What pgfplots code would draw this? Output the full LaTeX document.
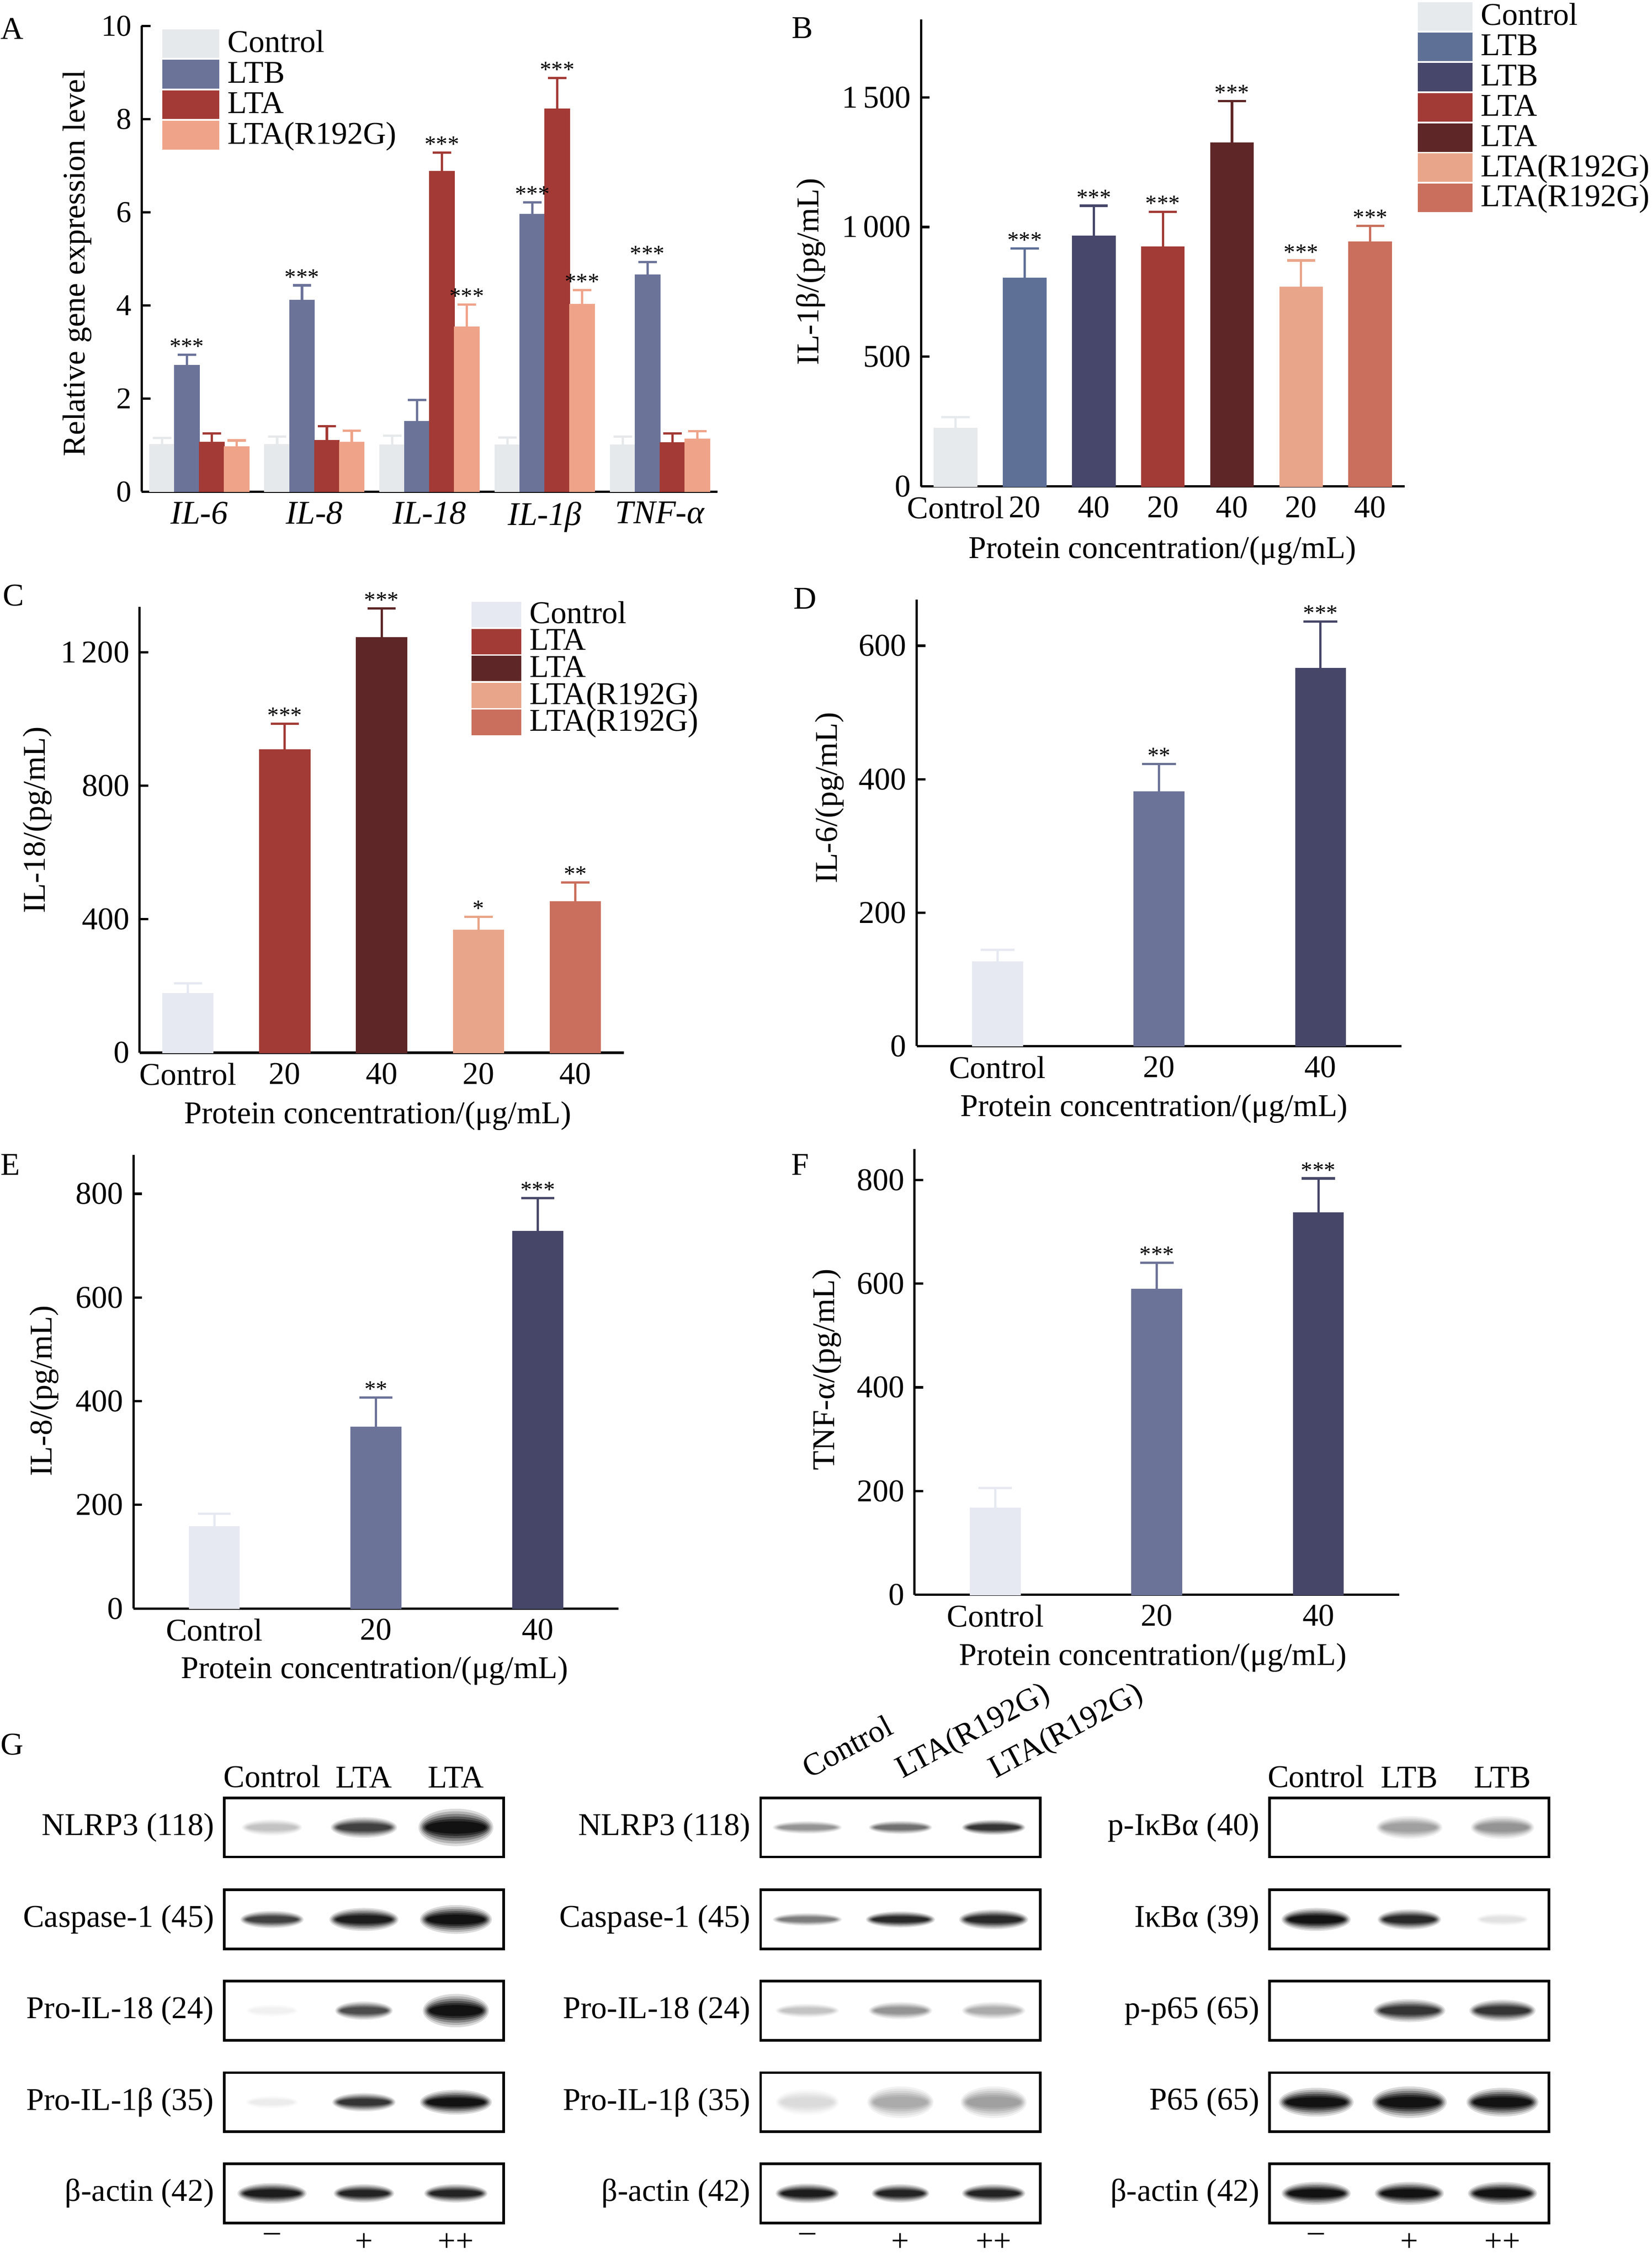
\documentclass[border=0pt]{standalone}
\usepackage{fontspec}
\setmainfont{Liberation Serif}
\usepackage{pgfplots}
\pgfplotsset{compat=1.18}

\definecolor{ctlA}{HTML}{E6E9EB}
\definecolor{ltbA}{HTML}{6B7399}
\definecolor{ltaA}{HTML}{A33A35}
\definecolor{rgA}{HTML}{EFA48A}
\definecolor{ctl}{HTML}{E6E9F1}
\definecolor{ctlB}{HTML}{E6EAED}
\definecolor{ltbL}{HTML}{5E7096}
\definecolor{ltbH}{HTML}{46476A}
\definecolor{ltaL}{HTML}{A23B36}
\definecolor{ltaH}{HTML}{5E2626}
\definecolor{rgL}{HTML}{E9A58A}
\definecolor{rgH}{HTML}{CA6F5D}
\definecolor{dL}{HTML}{6C7398}
\definecolor{dH}{HTML}{464768}

\def\legW{19pt}\def\legH{4.8pt}
\newcommand\fs[1]{\fontsize{#1}{#1}\selectfont}

% a filled-only round mark (no outline)
\pgfdeclareplotmark{blob}{\pgfpathcircle{\pgfpointorigin}{\pgfplotmarksize}\pgfusepathqfill}

\pgfplotsset{
 colormap={blot}{rgb255=(255,255,255) rgb255=(18,18,18)},
 panel/.style={scale only axis, anchor=south west,
   axis x line*=bottom, axis y line*=left,
   axis line style={line width=0.8pt, black},
   tick align=inside, major tick length=3pt,
   ytick style={line width=0.8pt, black}, xtick style={draw=none},
   clip=false, font=\fs{11},
   /pgf/number format/assume math mode=true,
   tick label style={font=\fs{11}},
   legend cell align=left,
   legend style={draw=none, fill=none, inner sep=0pt, column sep=3pt,
     nodes={inner sep=0pt, text height=6pt, text depth=0pt, font=\fs{11}}},
 },
 bars/.style n args={4}{ybar, bar width=#1, bar shift=#2, draw=#3, fill=#3, line width=0.3pt,
   legend image code/.code={\fill[##1] (0pt,-\legH) rectangle (\legW,\legH);},
   error bars/y dir=plus, error bars/y explicit,
   error bars/error bar style={line width=0.8pt, draw=#3, solid},
   error bars/error mark options={line width=0.8pt, draw=#3, mark size=#4, rotate=90}},
 stars/.style={forget plot, draw=none, mark=none, nodes near coords, point meta=explicit symbolic,
   every node near coord/.append style={anchor=base, inner sep=0pt, yshift=0.3pt, font=\fs{8}, text=black}},
 blot/.style={scale only axis, anchor=south west, width=97.05pt, height=20.55pt,
   xmin=0.5, xmax=3.5, ymin=0, ymax=1, axis line style={line width=0.9pt},
   xtick={1,2,3}, ytick=\empty, major tick length=0pt, xtick style={draw=none},
   xticklabels={,,}, colormap name=blot, point meta min=0, point meta max=1,
   font=\fs{11}, tick label style={font=\fs{11}}, clip=false},
 bandlayer/.style n args={3}{scatter, only marks, mark=blob, forget plot,
   scatter/use mapped color={fill=mapped color},
   point meta={\thisrow{k}*#1},
   visualization depends on={\thisrow{w}*#2 \as \bw},
   visualization depends on={\thisrow{h}*#3/(\thisrow{w}*#2) \as \bys},
   scatter/@pre marker code/.append style={/tikz/mark size=\bw, /tikz/yscale=\bys}},
}

\newcommand\bands[1]{%
 \addplot[bandlayer={0.15}{1}{1}] table[row sep=\\, x=x, y expr=0.5] {#1};
 \addplot[bandlayer={0.32}{0.96}{0.86}] table[row sep=\\, x=x, y expr=0.5] {#1};
 \addplot[bandlayer={0.52}{0.92}{0.72}] table[row sep=\\, x=x, y expr=0.5] {#1};
 \addplot[bandlayer={0.72}{0.88}{0.58}] table[row sep=\\, x=x, y expr=0.5] {#1};
 \addplot[bandlayer={0.88}{0.84}{0.45}] table[row sep=\\, x=x, y expr=0.5] {#1};
 \addplot[bandlayer={1}{0.8}{0.33}] table[row sep=\\, x=x, y expr=0.5] {#1};
}
\newcommand\blot[5]{%
 \begin{axis}[blot, at={(#1,#2)}, #5]
 \node[anchor=east, font=\fs{11}] at (rel axis cs:0,0.5) {#3};
 \bands{#4}
 \end{axis}}

\begin{document}
\begin{tikzpicture}
\path[use as bounding box] (0pt,0pt) rectangle (573.6pt,784.95pt);

% panel letters
\node[anchor=north west, inner sep=0pt, font=\fs{11}] at (0pt,778.8pt) {A};
\node[anchor=north west, inner sep=0pt, font=\fs{11}] at (274.8pt,779.1pt) {B};
\node[anchor=north west, inner sep=0pt, font=\fs{11}] at (0.75pt,582.15pt) {C};
\node[anchor=north west, inner sep=0pt, font=\fs{11}] at (275.4pt,580.95pt) {D};
\node[anchor=north west, inner sep=0pt, font=\fs{11}] at (0pt,384.45pt) {E};
\node[anchor=north west, inner sep=0pt, font=\fs{11}] at (274.65pt,384.45pt) {F};
\node[anchor=north west, inner sep=0pt, font=\fs{11}] at (0pt,183.3pt) {G};

% ---------------- A ----------------
\def\legW{19.5pt}\def\legH{4.85pt}
\begin{axis}[panel, at={(49.2pt,614.25pt)}, width=199.95pt, height=161.7pt,
  xmin=0.5, xmax=5.5, ymin=0, ymax=10, ytick={0,2,4,6,8,10},
  yticklabel style={font=\fs{10.5}},
  xtick={1,2,3,4,5},
  xticklabels={\textit{IL-6},\textit{IL-8},\textit{IL-18},\textit{IL-1β},\textit{TNF-α}},
  xticklabel style={font=\fs{11.5}},
  ylabel={Relative gene expression level},
  ylabel style={at={(axis description cs:-0.112,0.49)}, anchor=center},
  legend style={at={(0.0345,0.994)}, anchor=north west, row sep=0.6pt},
  legend entries={Control,LTB,LTA,LTA(R192G)}]
\addplot[bars={0.216}{0}{ctlA}{3.2pt}] coordinates {(0.676,1.01)+-(0,0.14) (1.676,1.01)+-(0,0.17) (2.676,1.0)+-(0,0.2) (3.676,1.0)+-(0,0.16) (4.676,1.0)+-(0,0.18)};
\addplot[bars={0.216}{0}{ltbA}{3.2pt}] coordinates {(0.892,2.71)+-(0,0.23) (1.892,4.11)+-(0,0.32) (2.892,1.51)+-(0,0.46) (3.892,5.95)+-(0,0.26) (4.892,4.65)+-(0,0.28)};
\addplot[bars={0.216}{0}{ltaA}{3.2pt}] coordinates {(1.108,1.06)+-(0,0.19) (2.108,1.10)+-(0,0.31) (3.108,6.88)+-(0,0.40) (4.108,8.22)+-(0,0.66) (5.108,1.05)+-(0,0.20)};
\addplot[bars={0.216}{0}{rgA}{3.2pt}] coordinates {(1.324,0.96)+-(0,0.14) (2.324,1.06)+-(0,0.25) (3.324,3.54)+-(0,0.48) (4.324,4.02)+-(0,0.31) (5.324,1.13)+-(0,0.17)};
\addplot[stars] coordinates {(0.892,2.94)[***] (1.892,4.43)[***] (3.108,7.28)[***] (3.324,4.02)[***] (3.892,6.21)[***] (4.108,8.88)[***] (4.324,4.33)[***] (4.892,4.93)[***]};
\end{axis}

% ---------------- B ----------------
\def\legW{18.6pt}\def\legH{4.8pt}
\begin{axis}[panel, at={(319.8pt,616.05pt)}, width=168pt, height=162.15pt,
  xmin=-0.5, xmax=6.5, ymin=0, ymax=1800,
  ytick={0,500,1000,1500}, yticklabels={0,500,1\,000,1\,500},
  xtick={0,1,2,3,4,5,6}, xticklabels={Control,20,40,20,40,20,40},
  ylabel={IL-1β/(pg/mL)},
  ylabel style={at={(axis description cs:-0.228,0.46)}, anchor=center},
  xlabel={Protein concentration/(μg/mL)},
  xlabel style={at={(axis description cs:0.499,-0.137)}, anchor=center},
  legend style={at={(1.026,1.038)}, anchor=north west, row sep=0.6pt},
  legend entries={Control,LTB,LTB,LTA,LTA,LTA(R192G),LTA(R192G)}]
\addplot[bars={0.62}{0}{ctlB}{4.9pt}] coordinates {(0,224)+-(0,44)};
\addplot[bars={0.62}{0}{ltbL}{4.9pt}] coordinates {(1,804)+-(0,113)};
\addplot[bars={0.62}{0}{ltbH}{4.9pt}] coordinates {(2,965)+-(0,117)};
\addplot[bars={0.62}{0}{ltaL}{4.9pt}] coordinates {(3,923)+-(0,135)};
\addplot[bars={0.62}{0}{ltaH}{4.9pt}] coordinates {(4,1325)+-(0,161)};
\addplot[bars={0.62}{0}{rgL}{4.9pt}] coordinates {(5,769)+-(0,102)};
\addplot[bars={0.62}{0}{rgH}{4.9pt}] coordinates {(6,943)+-(0,62)};
\addplot[stars] coordinates {(1,917)[***] (2,1082)[***] (3,1058)[***] (4,1486)[***] (5,871)[***] (6,1005)[***]};
\end{axis}

% ---------------- C ----------------
\def\legW{17pt}\def\legH{4.25pt}
\begin{axis}[panel, at={(48.45pt,419.475pt)}, width=168.15pt, height=154.725pt,
  xmin=-0.5, xmax=4.5, ymin=0, ymax=1335,
  ytick={0,400,800,1200}, yticklabels={0,400,800,1\,200},
  xtick={0,1,2,3,4}, xticklabels={Control,20,40,20,40},
  ylabel={IL-18/(pg/mL)},
  ylabel style={at={(axis description cs:-0.2105,0.522)}, anchor=center},
  xlabel={Protein concentration/(μg/mL)},
  xlabel style={at={(axis description cs:0.492,-0.142)}, anchor=center},
  legend style={at={(0.684,1.0126)}, anchor=north west, row sep=0.55pt},
  legend entries={Control,LTA,LTA,LTA(R192G),LTA(R192G)}]
\addplot[bars={0.52}{0}{ctl}{4.9pt}] coordinates {(0,178)+-(0,30)};
\addplot[bars={0.52}{0}{ltaL}{4.9pt}] coordinates {(1,908)+-(0,77)};
\addplot[bars={0.52}{0}{ltaH}{4.9pt}] coordinates {(2,1243)+-(0,88)};
\addplot[bars={0.52}{0}{rgL}{4.9pt}] coordinates {(3,367)+-(0,40)};
\addplot[bars={0.52}{0}{rgH}{4.9pt}] coordinates {(4,453)+-(0,57)};
\addplot[stars] coordinates {(1,985)[***] (2,1331)[***] (3,407)[*] (4,510)[**]};
\end{axis}

% ---------------- D ----------------
\begin{axis}[panel, at={(318.3pt,421.8pt)}, width=168.3pt, height=154.95pt,
  xmin=-0.5, xmax=2.5, ymin=0, ymax=669,
  ytick={0,200,400,600},
  xtick={0,1,2}, xticklabels={Control,20,40},
  ylabel={IL-6/(pg/mL)},
  ylabel style={at={(axis description cs:-0.18,0.556)}, anchor=center},
  xlabel={Protein concentration/(μg/mL)},
  xlabel style={at={(axis description cs:0.49,-0.140)}, anchor=center}]
\addplot[bars={0.31}{0}{ctl}{5.9pt}] coordinates {(0,126)+-(0,18)};
\addplot[bars={0.31}{0}{dL}{5.9pt}] coordinates {(1,381)+-(0,42)};
\addplot[bars={0.31}{0}{dH}{5.9pt}] coordinates {(2,566)+-(0,70)};
\addplot[stars] coordinates {(1,423)[**] (2,636)[***]};
\end{axis}

% ---------------- E ----------------
\begin{axis}[panel, at={(46.35pt,226.5pt)}, width=168.45pt, height=157.5pt,
  xmin=-0.5, xmax=2.5, ymin=0, ymax=875,
  ytick={0,200,400,600,800},
  xtick={0,1,2}, xticklabels={Control,20,40},
  ylabel={IL-8/(pg/mL)},
  ylabel style={at={(axis description cs:-0.184,0.48)}, anchor=center},
  xlabel={Protein concentration/(μg/mL)},
  xlabel style={at={(axis description cs:0.497,-0.137)}, anchor=center}]
\addplot[bars={0.31}{0}{ctl}{5.7pt}] coordinates {(0,158)+-(0,25)};
\addplot[bars={0.31}{0}{dL}{5.7pt}] coordinates {(1,350)+-(0,57)};
\addplot[bars={0.31}{0}{dH}{5.7pt}] coordinates {(2,728)+-(0,64)};
\addplot[stars] coordinates {(1,407)[**] (2,792)[***]};
\end{axis}

% ---------------- F ----------------
\begin{axis}[panel, at={(317.55pt,231.3pt)}, width=168.3pt, height=154.8pt,
  xmin=-0.5, xmax=2.5, ymin=0, ymax=860,
  ytick={0,200,400,600,800},
  xtick={0,1,2}, xticklabels={Control,20,40},
  ylabel={TNF-α/(pg/mL)},
  ylabel style={at={(axis description cs:-0.181,0.505)}, anchor=center},
  xlabel={Protein concentration/(μg/mL)},
  xlabel style={at={(axis description cs:0.492,-0.1415)}, anchor=center}]
\addplot[bars={0.31}{0}{ctl}{5.8pt}] coordinates {(0,167)+-(0,39)};
\addplot[bars={0.31}{0}{dL}{5.8pt}] coordinates {(1,589)+-(0,51)};
\addplot[bars={0.31}{0}{dH}{5.8pt}] coordinates {(2,737)+-(0,66)};
\addplot[stars] coordinates {(1,640)[***] (2,803)[***]};
\end{axis}

% ---------------- G : column 1 ----------------
\blot{77.85pt}{140.25pt}{NLRP3 (118)}{x k w h\\ 1 0.25 10.5 2.8\\ 2 0.8 11.5 3.6\\ 3 1 13 6.5\\}{xmin=0.48, xmax=3.52, xticklabel pos=upper, xticklabels={Control,LTA,LTA}}
\blot{77.85pt}{108.3pt}{Caspase-1 (45)}{x k w h\\ 1 0.8 11 3\\ 2 0.95 12 4\\ 3 1 12.5 5\\}{xmin=0.48, xmax=3.52}
\blot{77.85pt}{76.65pt}{Pro-IL-18 (24)}{x k w h\\ 1 0.06 9 2.2\\ 2 0.75 10 3.2\\ 3 1 11.5 5.8\\}{xmin=0.48, xmax=3.52}
\blot{77.85pt}{44.85pt}{Pro-IL-1β (35)}{x k w h\\ 1 0.08 9 2.2\\ 2 0.85 11 3.2\\ 3 1 12.5 4.3\\}{xmin=0.48, xmax=3.52}
\blot{77.85pt}{13.2pt}{β-actin (42)}{x k w h\\ 1 0.95 12 3.6\\ 2 0.92 10.5 3.2\\ 3 0.92 11 3.2\\}{xmin=0.48, xmax=3.52, xticklabels={–,+,++}}

% ---------------- G : column 2 ----------------
\blot{264.15pt}{140.25pt}{NLRP3 (118)}{x k w h\\ 1 0.45 12 2.2\\ 2 0.6 11 2.3\\ 3 0.85 11 2.6\\}{xticklabel pos=upper, xticklabels={Control,LTA(R192G),LTA(R192G)}, xticklabel style={xshift=-2.4pt, yshift=5pt, rotate=28, anchor=base west}}
\blot{264.15pt}{108.3pt}{Caspase-1 (45)}{x k w h\\ 1 0.55 12 2.2\\ 2 0.9 12 2.8\\ 3 0.9 12 3.4\\}{}
\blot{264.15pt}{76.65pt}{Pro-IL-18 (24)}{x k w h\\ 1 0.25 11 2.4\\ 2 0.45 11 3\\ 3 0.35 11 3\\}{}
\blot{264.15pt}{44.85pt}{Pro-IL-1β (35)}{x k w h\\ 1 0.15 11 4.5\\ 2 0.35 11.5 5.5\\ 3 0.4 11.5 5.5\\}{}
\blot{264.15pt}{13.2pt}{β-actin (42)}{x k w h\\ 1 0.95 11 3.4\\ 2 0.92 10 3.2\\ 3 0.92 11 3.2\\}{xticklabels={–,+,++}}

% ---------------- G : column 3 ----------------
\blot{440.85pt}{140.25pt}{p-IκBα (40)}{x k w h\\ 1 0 10 2\\ 2 0.4 11.5 4\\ 3 0.45 11 4\\}{xticklabel pos=upper, xticklabels={Control,LTB,LTB}}
\blot{440.85pt}{108.3pt}{IκBα (39)}{x k w h\\ 1 1 12 4\\ 2 0.9 11 3.5\\ 3 0.12 9 2.2\\}{}
\blot{440.85pt}{76.65pt}{p-p65 (65)}{x k w h\\ 1 0 10 2\\ 2 0.85 12.5 4\\ 3 0.85 11.5 3.8\\}{}
\blot{440.85pt}{44.85pt}{P65 (65)}{x k w h\\ 1 1 13 5\\ 2 1 13 5.5\\ 3 1 12.5 5\\}{}
\blot{440.85pt}{13.2pt}{β-actin (42)}{x k w h\\ 1 1 12 4\\ 2 1 12 4\\ 3 1 12 4\\}{xticklabels={–,+,++}}

\end{tikzpicture}
\end{document}
